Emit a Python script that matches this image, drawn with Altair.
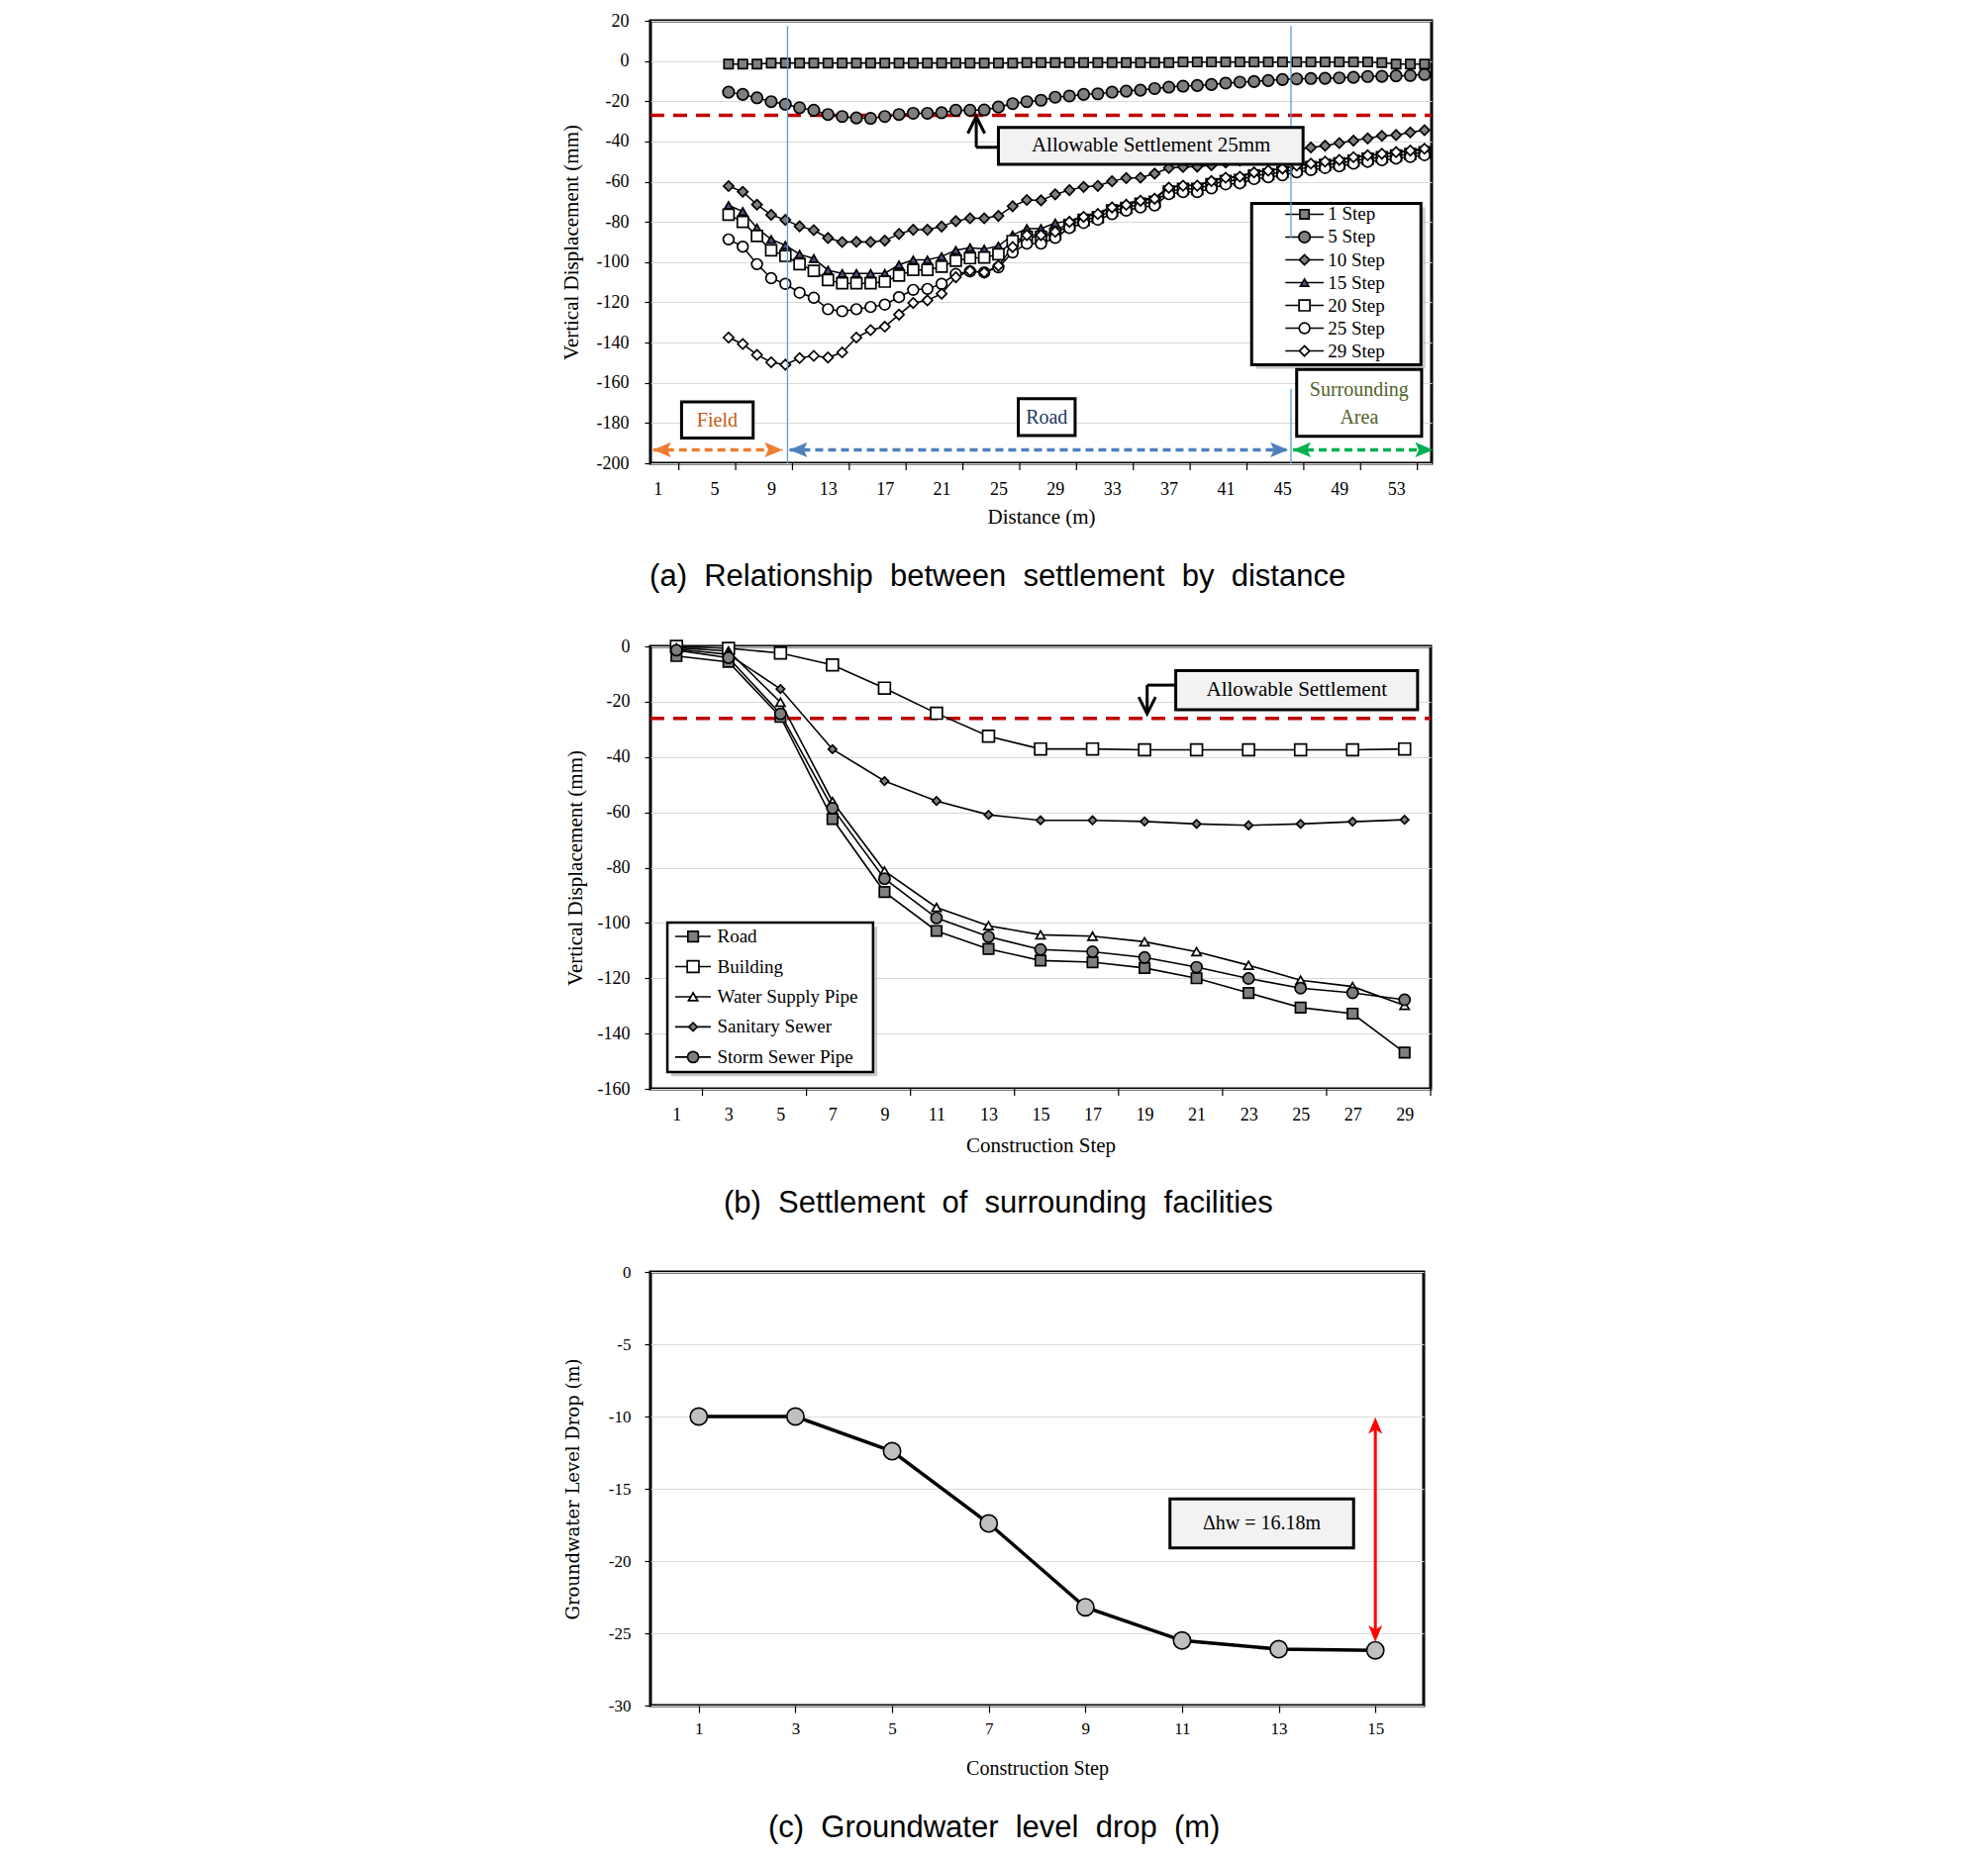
import altair as alt
import pandas as pd

SERIF = "Liberation Serif"
SANS = "Liberation Sans"
GRID = "#d9d9d9"
GREY = "#7f7f7f"

W_A, H_A = 789, 447
W_B, H_B = 788, 447
W_C, H_C = 781, 438

# ======================= (a) settlement by distance =======================
distance = list(range(6, 56))
series_a = ["1 Step", "5 Step", "10 Step", "15 Step", "20 Step", "25 Step", "29 Step"]
step1 = [-1.5, -1.5, -1.5, -1.0, -1.0, -1.0, -1.0, -1.0, -1.0, -1.0,
         -1.0, -1.0, -1.0, -1.0, -1.0, -1.0, -1.0, -1.0, -1.0, -1.0,
         -1.0, -0.8, -0.8, -0.8, -0.8, -0.8, -0.8, -0.8, -0.8, -0.8,
         -0.8, -0.8, -0.5, -0.5, -0.5, -0.5, -0.5, -0.5, -0.5, -0.5,
         -0.5, -0.5, -0.5, -0.5, -0.5, -0.5, -0.8, -1.5, -1.5, -1.5]
step5 = [-15.5, -16.6, -18.3, -20.2, -21.5, -23.2, -24.5, -26.6, -27.6, -28.3,
         -28.5, -27.6, -26.6, -26.0, -26.0, -25.7, -24.5, -24.5, -24.3, -22.9,
         -21.2, -20.2, -19.5, -18.0, -17.4, -16.6, -16.3, -15.5, -15.0, -14.5,
         -13.7, -13.0, -12.5, -12.2, -11.7, -11.0, -10.5, -10.2, -9.7, -9.2,
         -8.9, -8.7, -8.6, -8.4, -8.1, -7.7, -7.6, -7.4, -7.2, -6.7]
step10 = [-62.2, -65.0, -71.4, -76.5, -79.0, -82.2, -84.1, -88.0, -90.0, -89.9,
          -90.0, -89.3, -86.0, -83.9, -83.9, -82.3, -79.6, -78.2, -78.2, -77.0,
          -72.2, -69.1, -69.3, -66.3, -64.2, -62.6, -62.1, -59.8, -58.2, -58.0,
          -56.0, -53.2, -52.7, -52.5, -51.8, -50.5, -49.5, -48.0, -46.8, -45.5,
          -44.2, -43.0, -42.1, -40.8, -39.6, -38.5, -37.2, -36.8, -35.5, -34.4]
step15 = [-71.8, -74.8, -83.0, -88.7, -91.6, -96.1, -98.2, -104.0, -105.6, -105.6,
          -105.6, -105.6, -101.3, -98.9, -98.9, -97.2, -94.1, -92.8, -93.5, -92.0,
          -86.5, -83.3, -83.3, -80.5, -79.5, -77.0, -75.5, -72.5, -71.0, -69.0,
          -68.0, -62.8, -61.8, -61.8, -59.5, -58.0, -57.3, -55.3, -54.5, -53.5,
          -52.0, -51.0, -50.0, -49.2, -48.0, -47.0, -46.3, -45.5, -44.8, -44.0]
step20 = [-76.4, -80.0, -87.0, -94.1, -96.9, -101.0, -104.3, -108.9, -110.5, -110.5,
          -110.5, -109.7, -106.7, -103.9, -103.9, -102.3, -99.3, -98.0, -97.7, -96.1,
          -89.5, -87.5, -87.5, -85.9, -81.5, -79.0, -77.6, -74.3, -73.0, -71.0,
          -70.0, -64.9, -63.6, -63.6, -61.3, -59.6, -59.1, -57.0, -56.3, -55.2,
          -53.8, -52.7, -51.7, -50.9, -49.5, -48.6, -47.8, -47.0, -46.2, -45.4]
step25 = [-88.7, -92.3, -101.0, -108.0, -110.8, -115.2, -117.7, -123.4, -124.4, -123.4,
          -122.3, -121.1, -117.4, -113.8, -113.3, -110.8, -105.9, -104.6, -105.1, -102.6,
          -95.2, -90.8, -90.8, -87.9, -83.0, -80.5, -78.9, -76.1, -74.4, -72.8,
          -71.8, -66.2, -65.2, -65.2, -63.3, -61.3, -60.8, -58.7, -57.8, -56.8,
          -55.3, -54.2, -53.2, -52.4, -51.0, -50.1, -49.3, -48.5, -47.7, -46.8]
step29 = [-137.5, -140.7, -146.1, -149.8, -151.0, -147.7, -146.6, -147.4, -144.9, -137.5,
          -133.8, -132.1, -126.1, -120.3, -119.0, -115.7, -107.5, -104.3, -105.1, -101.8,
          -92.5, -86.6, -86.6, -84.9, -80.0, -77.5, -76.1, -72.8, -71.5, -69.5,
          -68.5, -63.0, -62.0, -62.0, -59.7, -58.0, -57.5, -55.4, -54.5, -53.5,
          -52.0, -51.0, -50.0, -49.2, -47.8, -46.9, -46.1, -45.3, -44.5, -43.6]
values_a = [step1, step5, step10, step15, step20, step25, step29]
xlabels_a = [1, 5, 9, 13, 17, 21, 25, 29, 33, 37, 41, 45, 49, 53]
xticks_a = [2.5, 6.5, 10.5, 14.5, 18.5, 22.5, 26.5, 30.5, 34.5, 38.5, 42.5, 46.5, 50.5, 54.5]
ylabels_a = [-200, -180, -160, -140, -120, -100, -80, -60, -40, -20, 0, 20]
allowable_a = -27
zone_labels = ["Field", "Road", "Surrounding", "Area"]
caption_a = "(a) Relationship between settlement by distance"

# ======================= (b) surrounding facilities =======================
steps_b = [1, 3, 5, 7, 9, 11, 13, 15, 17, 19, 21, 23, 25, 27, 29]
series_b = ["Road", "Building", "Water Supply Pipe", "Sanitary Sewer", "Storm Sewer Pipe"]
road = [-3.5, -5.6, -25.5, -62.4, -88.8, -102.9, -109.4, -113.6, -114.2, -116.3, -120.0, -125.3, -130.6, -132.8, -146.9]
building = [0.0, -0.7, -2.4, -6.7, -15.1, -24.2, -32.5, -37.1, -37.1, -37.4, -37.4, -37.4, -37.4, -37.4, -37.1]
water = [-0.5, -1.7, -20.2, -56.1, -81.2, -94.4, -101.0, -104.3, -104.8, -106.8, -110.4, -115.3, -120.7, -123.0, -129.8]
sanitary = [-1.0, -2.9, -15.4, -37.2, -48.7, -55.9, -60.9, -62.9, -62.9, -63.3, -64.2, -64.7, -64.2, -63.4, -62.7]
storm = [-1.4, -4.1, -24.4, -58.5, -84.0, -98.2, -105.0, -109.6, -110.4, -112.5, -116.0, -120.1, -123.6, -125.3, -127.8]
values_b = [road, building, water, sanitary, storm]
xticks_b = [2, 6, 10, 14, 18, 22, 26, 30]
ylabels_b = [-160, -140, -120, -100, -80, -60, -40, -20, 0]
allowable_b = -26
caption_b = "(b) Settlement of surrounding facilities"

# ======================= (c) groundwater level =======================
steps_c = [1, 3, 5, 7, 9, 11, 13, 15]
gw_drop = [-10.0, -10.0, -12.4, -17.4, -23.2, -25.5, -26.1, -26.18]
ylabels_c = [-30, -25, -20, -15, -10, -5, 0]
delta_label = "\u0394hw = 16.18m"
caption_c = "(c) Groundwater level drop (m)"

# ----------------------------------------------------------------------
PLAIN = "'' + datum.value"


def yaxis(title, values, lab_fs, title_font, title_fs, label_pad, title_pad):
    return alt.Axis(title=title, values=values, grid=True, gridColor=GRID, gridWidth=1.2,
                    domain=False, ticks=True, tickColor="black", tickSize=6, tickWidth=1.2,
                    labelFont=SERIF, labelFontSize=lab_fs, labelColor="black", labelPadding=label_pad,
                    labelFlush=False, labelOverlap=False, labelExpr=PLAIN,
                    titleFont=title_font, titleFontSize=title_fs, titleFontWeight="normal",
                    titleColor="black", titlePadding=title_pad)


def xaxis(title, values, lab_fs, title_fs, label_pad, title_pad, tick_op):
    return alt.Axis(title=title, values=values, grid=False, domain=False, ticks=True,
                    tickColor="black", tickOpacity=tick_op, tickSize=7, tickWidth=1.2,
                    labelFont=SERIF, labelFontSize=lab_fs, labelColor="black", labelPadding=label_pad,
                    labelAngle=0, labelFlush=False, labelOverlap=False, labelExpr=PLAIN,
                    titleFont=SERIF, titleFontSize=title_fs, titleFontWeight="normal",
                    titleColor="black", titlePadding=title_pad)


def caption(text, off):
    wide = " \u00a0".join(text.split(" "))
    return alt.TitleParams(text=wide, orient="bottom", anchor="middle", frame="bounds", font=SANS,
                           fontSize=31, fontWeight="normal", color="black", offset=off, baseline="top")


def pts(df, X, Y, shape, fill, size, sw=1.5):
    return alt.Chart(df).mark_point(shape=shape, filled=True, fill=fill, stroke="black", strokeWidth=sw,
                                    size=size, opacity=1).encode(x=X(), y=Y())


CHEV_UP = "M-1,2L0,0L1,2"
CHEV_DOWN = "M-1,-2L0,0L1,-2"
HEAD_LEFT = "M0,0L2,-0.85L1.6,0L2,0.85Z"
HEAD_RIGHT = "M0,0L-2,-0.85L-1.6,0L-2,0.85Z"
HEAD_UP = "M0,0L1,2.4L0,1.8L-1,2.4Z"
HEAD_DOWN = "M0,0L1,-2.4L0,-1.8L-1,-2.4Z"

# ======================= build (a) =======================
sxa = alt.Scale(domain=[0.5, 55.5], nice=False, zero=False)
sya = alt.Scale(domain=[-200, 20], nice=False, zero=False)
axis_xa = xaxis("Distance (m)", xlabels_a, 18, 21, 10, 8, 0)
axis_ya = yaxis("Vertical Displacement (mm)", ylabels_a, 18, SERIF, 21, 16, 15)


def XA(f="u"):
    return alt.X(f, type="quantitative", scale=sxa, axis=axis_xa)


def YA(f="v"):
    return alt.Y(f, type="quantitative", scale=sya, axis=axis_ya)


shapes_a = ["square", "circle", "diamond", "triangle-up", "square", "circle", "diamond"]
fills_a = [GREY, GREY, GREY, "#5f497a", "white", "white", "white"]
sizes_a = [85, 130, 105, 70, 120, 115, 105]

df_a = pd.DataFrame([{"series": n, "u": d, "v": v}
                     for n, vals in zip(series_a, values_a) for d, v in zip(distance, vals)])

la = []
la.append(alt.Chart(pd.DataFrame({"u": [0.5], "u2": [55.5], "v": [allowable_a]}))
          .mark_rule(color="#c00000", strokeWidth=3.5, strokeDash=[14, 9])
          .encode(x=XA(), x2="u2", y=YA()))
la.append(alt.Chart(df_a).mark_line(color="black", strokeWidth=1.5)
          .encode(x=XA(), y=YA(), detail="series:N"))
for n, shp, fil, sz in zip(series_a, shapes_a, fills_a, sizes_a):
    la.append(pts(df_a[df_a.series == n], XA, YA, shp, fil, sz, 1.7))

# legend (a)
leg_top_a, leg_step_a = -76.2, -11.33
leg_a = pd.DataFrame({"series": series_a,
                      "v": [leg_top_a + i * leg_step_a for i in range(len(series_a))],
                      "u": 46.55, "u1": 45.2, "u2": 47.9, "ut": 48.2})
la.append(alt.Chart(pd.DataFrame({"u": [43.15], "u2": [55.05], "v": [-72.8], "v2": [-153.0]}))
          .mark_rect(fill="#9a9a9a", opacity=0.55).encode(x=XA(), x2="u2", y=YA(), y2="v2"))
la.append(alt.Chart(pd.DataFrame({"u": [42.83], "u2": [54.75], "v": [-70.8], "v2": [-151.0]}))
          .mark_rect(fill="white", stroke="black", strokeWidth=3).encode(x=XA(), x2="u2", y=YA(), y2="v2"))
la.append(alt.Chart(leg_a).mark_rule(color="black", strokeWidth=1.5)
          .encode(x=XA("u1"), x2="u2", y=YA()))
for i, (n, shp, fil, sz) in enumerate(zip(series_a, shapes_a, fills_a, sizes_a)):
    la.append(pts(leg_a.iloc[[i]], XA, YA, shp, fil, sz, 1.7))
la.append(alt.Chart(leg_a).mark_text(align="left", baseline="middle", font=SERIF, fontSize=19, color="black")
          .encode(x=XA("ut"), y=YA(), text="series:N"))

# blue zone separators
blue = pd.DataFrame({"u": [10.15, 45.6, 45.6], "v": [17.4, 17.4, -163.0], "v2": [-200.0, -88.0, -200.0]})
la.append(alt.Chart(blue).mark_rule(color="#5b9bd5", strokeWidth=1.3).encode(x=XA(), y=YA(), y2="v2"))

# allowable settlement annotation
la.append(alt.Chart(pd.DataFrame({"u": [23.44, 23.44], "u2": [23.44, 25.0], "v": [-42.9, -42.9], "v2": [-28.5, -42.9]}))
          .mark_rule(color="black", strokeWidth=3).encode(x=XA(), x2="u2", y=YA(), y2="v2"))
la.append(alt.Chart(pd.DataFrame({"u": [23.44], "v": [-27.6]}))
          .mark_point(shape=CHEV_UP, filled=False, stroke="black", strokeWidth=3, size=289, opacity=1)
          .encode(x=XA(), y=YA()))
la.append(alt.Chart(pd.DataFrame({"u": [25.0], "u2": [46.45], "v": [-33.0], "v2": [-51.4]}))
          .mark_rect(fill="#f2f2f2", stroke="black", strokeWidth=3).encode(x=XA(), x2="u2", y=YA(), y2="v2"))
la.append(alt.Chart(pd.DataFrame({"u": [35.75], "v": [-42.1], "t": ["Allowable Settlement 25mm"]}))
          .mark_text(font=SERIF, fontSize=21, color="black", baseline="middle")
          .encode(x=XA(), y=YA(), text="t:N"))

# zone boxes
zones = pd.DataFrame({"u": [2.69, 26.4, 46.0], "u2": [7.73, 30.4, 54.8],
                      "v": [-169.5, -167.9, -153.4], "v2": [-187.5, -186.2, -186.6]})
la.append(alt.Chart(zones).mark_rect(fill="white", stroke="black", strokeWidth=3)
          .encode(x=XA(), x2="u2", y=YA(), y2="v2"))
zone_txt = pd.DataFrame({"u": [5.2, 28.4, 50.4, 50.4], "v": [-178.7, -177.2, -163.8, -177.4],
                         "t": zone_labels, "c": ["#c55a11", "#1f3864", "#4f6228", "#4f6228"]})
la.append(alt.Chart(zone_txt).mark_text(font=SERIF, fontSize=20, baseline="middle")
          .encode(x=XA(), y=YA(), text="t:N", color=alt.Color("c:N", scale=None)))

# zone arrows
arr = pd.DataFrame({"u": [0.69, 10.29, 45.74], "u2": [9.8, 45.4, 55.6], "v": [-193.3] * 3,
                    "c": ["#ed7d31", "#4f81bd", "#00b050"]})
la.append(alt.Chart(arr).mark_rule(strokeWidth=3.5, strokeDash=[8, 5])
          .encode(x=XA(), x2="u2", y=YA(), color=alt.Color("c:N", scale=None)))
la.append(alt.Chart(arr).mark_point(shape=HEAD_LEFT, filled=True, size=324, opacity=1)
          .encode(x=XA(), y=YA(), fill=alt.Fill("c:N", scale=None)))
la.append(alt.Chart(arr).mark_point(shape=HEAD_RIGHT, filled=True, size=324, opacity=1)
          .encode(x=XA("u2"), y=YA(), fill=alt.Fill("c:N", scale=None)))

# category tick marks
la.append(alt.Chart(pd.DataFrame({"u": xticks_a})).mark_rule(color="black", strokeWidth=1.2)
          .encode(x=XA(), y=alt.value(H_A), y2=alt.value(H_A + 7)))

chart_a = alt.layer(*la).properties(width=W_A, height=H_A, title=caption(caption_a, 36))

# ======================= build (b) =======================
sxb = alt.Scale(domain=[0, 30], nice=False, zero=False)
syb = alt.Scale(domain=[-160, 0], nice=False, zero=False)
axis_xb = xaxis("Construction Step", steps_b, 18, 21, 10, 11, 0)
axis_yb = yaxis("Vertical Displacement (mm)", ylabels_b, 18, SERIF, 21, 15, 12)


def XB(f="u"):
    return alt.X(f, type="quantitative", scale=sxb, axis=axis_xb)


def YB(f="v"):
    return alt.Y(f, type="quantitative", scale=syb, axis=axis_yb)


shapes_b = ["square", "square", "triangle-up", "diamond", "circle"]
fills_b = [GREY, "white", "white", GREY, GREY]
sizes_b = [110, 140, 85, 70, 125]

df_b = pd.DataFrame([{"series": n, "u": s, "v": v}
                     for n, vals in zip(series_b, values_b) for s, v in zip(steps_b, vals)])

lb = []
lb.append(alt.Chart(pd.DataFrame({"u": [0], "u2": [30], "v": [allowable_b]}))
          .mark_rule(color="#c00000", strokeWidth=3.5, strokeDash=[14, 9])
          .encode(x=XB(), x2="u2", y=YB()))
lb.append(alt.Chart(df_b).mark_line(color="black", strokeWidth=1.6)
          .encode(x=XB(), y=YB(), detail="series:N"))
for n, shp, fil, sz in zip(series_b, shapes_b, fills_b, sizes_b):
    lb.append(pts(df_b[df_b.series == n], XB, YB, shp, fil, sz, 1.7))

leg_top_b, leg_step_b = -104.9, -10.9
leg_b = pd.DataFrame({"series": series_b,
                      "v": [leg_top_b + i * leg_step_b for i in range(len(series_b))],
                      "u": 1.64, "u1": 0.95, "u2": 2.32, "ut": 2.57})
lb.append(alt.Chart(pd.DataFrame({"u": [0.8], "u2": [8.72], "v": [-101.4], "v2": [-155.4]}))
          .mark_rect(fill="#9a9a9a", opacity=0.55).encode(x=XB(), x2="u2", y=YB(), y2="v2"))
lb.append(alt.Chart(pd.DataFrame({"u": [0.65], "u2": [8.56], "v": [-99.9], "v2": [-153.9]}))
          .mark_rect(fill="white", stroke="black", strokeWidth=2.5).encode(x=XB(), x2="u2", y=YB(), y2="v2"))
lb.append(alt.Chart(leg_b).mark_rule(color="black", strokeWidth=1.6)
          .encode(x=XB("u1"), x2="u2", y=YB()))
for i, (n, shp, fil, sz) in enumerate(zip(series_b, shapes_b, fills_b, sizes_b)):
    lb.append(pts(leg_b.iloc[[i]], XB, YB, shp, fil, sz, 1.7))
lb.append(alt.Chart(leg_b).mark_text(align="left", baseline="middle", font=SERIF, fontSize=19, color="black")
          .encode(x=XB("ut"), y=YB(), text="series:N"))

lb.append(alt.Chart(pd.DataFrame({"u": [19.1, 19.1], "u2": [20.2, 19.1], "v": [-14.0, -14.0], "v2": [-14.0, -23.6]}))
          .mark_rule(color="black", strokeWidth=3).encode(x=XB(), x2="u2", y=YB(), y2="v2"))
lb.append(alt.Chart(pd.DataFrame({"u": [19.1], "v": [-24.4]}))
          .mark_point(shape=CHEV_DOWN, filled=False, stroke="black", strokeWidth=3, size=289, opacity=1)
          .encode(x=XB(), y=YB()))
lb.append(alt.Chart(pd.DataFrame({"u": [20.2], "u2": [29.5], "v": [-8.8], "v2": [-22.9]}))
          .mark_rect(fill="#f2f2f2", stroke="black", strokeWidth=3).encode(x=XB(), x2="u2", y=YB(), y2="v2"))
lb.append(alt.Chart(pd.DataFrame({"u": [24.85], "v": [-15.9], "t": ["Allowable Settlement"]}))
          .mark_text(font=SERIF, fontSize=21, color="black", baseline="middle")
          .encode(x=XB(), y=YB(), text="t:N"))
lb.append(alt.Chart(pd.DataFrame({"u": xticks_b})).mark_rule(color="black", strokeWidth=1.2)
          .encode(x=XB(), y=alt.value(H_B), y2=alt.value(H_B + 7)))

chart_b = alt.layer(*lb).properties(width=W_B, height=H_B, title=caption(caption_b, 34))

# ======================= build (c) =======================
sxc = alt.Scale(domain=[0, 16], nice=False, zero=False)
syc = alt.Scale(domain=[-30, 0], nice=False, zero=False)
axis_xc = xaxis("Construction Step", steps_c, 17, 20, 8, 22, 1)
axis_yc = yaxis("Groundwater Level Drop (m)", ylabels_c, 17, "DejaVu Serif", 18, 14, 26)


def XC(f="u"):
    return alt.X(f, type="quantitative", scale=sxc, axis=axis_xc)


def YC(f="v"):
    return alt.Y(f, type="quantitative", scale=syc, axis=axis_yc)


df_c = pd.DataFrame({"u": steps_c, "v": gw_drop})
lc = []
lc.append(alt.Chart(df_c).mark_line(color="black", strokeWidth=3.5)
          .encode(x=XC(), y=YC()))
lc.append(alt.Chart(df_c).mark_point(shape="circle", filled=True, fill="#c0c0c0", stroke="black",
                                     strokeWidth=1.6, size=300, opacity=1).encode(x=XC(), y=YC()))
lc.append(alt.Chart(pd.DataFrame({"u": [15.0], "v": [-10.6], "v2": [-25.0]}))
          .mark_rule(color="#ff0000", strokeWidth=3).encode(x=XC(), y=YC(), y2="v2"))
lc.append(alt.Chart(pd.DataFrame({"u": [15.0], "v": [-10.05]}))
          .mark_point(shape=HEAD_UP, filled=True, fill="#ff0000", size=196, opacity=1).encode(x=XC(), y=YC()))
lc.append(alt.Chart(pd.DataFrame({"u": [15.0], "v": [-25.6]}))
          .mark_point(shape=HEAD_DOWN, filled=True, fill="#ff0000", size=196, opacity=1).encode(x=XC(), y=YC()))
lc.append(alt.Chart(pd.DataFrame({"u": [10.75], "u2": [14.55], "v": [-15.7], "v2": [-19.1]}))
          .mark_rect(fill="#f2f2f2", stroke="black", strokeWidth=3).encode(x=XC(), x2="u2", y=YC(), y2="v2"))
lc.append(alt.Chart(pd.DataFrame({"u": [12.65], "v": [-17.4], "t": [delta_label]}))
          .mark_text(font=SERIF, fontSize=20, color="black", baseline="middle")
          .encode(x=XC(), y=YC(), text="t:N"))

chart_c = alt.layer(*lc).properties(width=W_C, height=H_C, title=caption(caption_c, 36))

chart = alt.vconcat(chart_a, chart_b, chart_c, spacing=185, bounds="flush").properties(
    padding={"left": 564, "top": 10, "right": 10, "bottom": 10}, background="white"
).configure_view(stroke="black", strokeWidth=3)

chart.save("out.html", embed_options={"renderer": "svg", "actions": False})
